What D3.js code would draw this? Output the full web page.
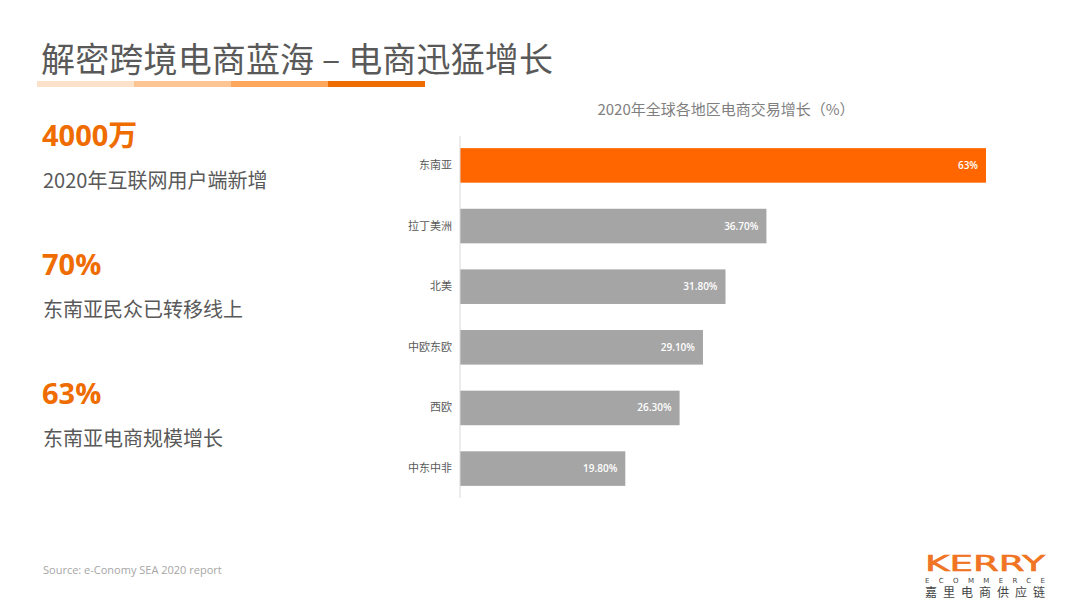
<!DOCTYPE html>
<html><head><meta charset="utf-8">
<script src="https://cdn.jsdelivr.net/npm/d3@7"></script>
<style>
html,body{margin:0;padding:0;background:#fff;}
svg{display:block;font-family:"Noto Sans CJK SC","Noto Sans",sans-serif;}
</style></head>
<body><svg id="c" width="1080" height="608"></svg>
<script>
const categories = ["东南亚","拉丁美洲","北美","中欧东欧","西欧","中东中非"];
const values = [63, 36.7, 31.8, 29.1, 26.3, 19.8];
const valueLabels = ["63%","36.70%","31.80%","29.10%","26.30%","19.80%"];
const stats = [
  {big:"4000万", sub:"2020年互联网用户端新增"},
  {big:"70%", sub:"东南亚民众已转移线上"},
  {big:"63%", sub:"东南亚电商规模增长"}
];
const accentColors = ["#fde2cb","#fdc594","#fca75c","#ee6c00"];

const svg = d3.select("#c");

// Title
svg.append("text").attr("x",41).attr("y",72).attr("font-size",34).attr("fill","#595959")
  .attr("font-weight",400).attr("textLength",512).text("解密跨境电商蓝海 – 电商迅猛增长");
// accent bar
const seg = d3.scaleBand().domain(d3.range(accentColors.length)).range([37,425]);
svg.selectAll("rect.acc").data(accentColors).join("rect").attr("class","acc")
  .attr("x",(d,i)=>seg(i)).attr("y",81).attr("width",seg.bandwidth()).attr("height",6)
  .attr("fill",d=>d);

// Left stats
stats.forEach((s,i)=>{
  const y0 = 146 + i*129;
  svg.append("text").attr("x",42).attr("y",y0).attr("font-size",29).attr("font-weight","bold")
    .attr("fill","#ee6c00").attr("font-family","'Open Sans','Noto Sans CJK SC',sans-serif").text(s.big);
  svg.append("text").attr("x",43).attr("y",y0+42).attr("font-size",20).attr("fill","#595959").text(s.sub);
});

// Chart
const x = d3.scaleLinear().domain([0,63]).range([460,986]);
const y = d3.scaleBand().domain(categories).range([136,498]).paddingInner(0.43).paddingOuter(0.2);

svg.append("text").attr("x",726).attr("y",115).attr("text-anchor","middle").attr("font-size",15)
  .attr("fill","#7f7f7f").text("2020年全球各地区电商交易增长（%）");

svg.selectAll("rect.bar").data(values).join("rect").attr("class","bar")
  .attr("x",x(0)).attr("y",(d,i)=>y(categories[i])).attr("width",d=>x(d)-x(0))
  .attr("height",y.bandwidth()).attr("fill",(d,i)=>i===0?"#ff6600":"#a5a5a5");

svg.selectAll("text.val").data(values).join("text").attr("class","val")
  .attr("x",d=>x(d)-8).attr("y",(d,i)=>y(categories[i])+y.bandwidth()/2)
  .attr("dy","0.35em").attr("text-anchor","end").attr("font-size",10).attr("fill","#fff")
  .attr("font-family","'Open Sans','Noto Sans',sans-serif").attr("font-weight","600")
  .text((d,i)=>valueLabels[i]);

const yAxis = d3.axisLeft(y).tickSize(0).tickPadding(8);
const ga = svg.append("g").attr("transform",`translate(${x(0)},0)`).call(yAxis);
ga.select(".domain").attr("stroke","#d9d9d9").attr("d","M0,136V498");
ga.selectAll("text").attr("font-size",11).attr("fill","#595959")
  .attr("font-family","'Noto Sans CJK SC',sans-serif");

// Source
svg.append("text").attr("x",43).attr("y",574).attr("font-size",11).attr("fill","#a6a6a6")
  .attr("font-family","'Open Sans',sans-serif").text("Source: e-Conomy SEA 2020 report");

// Logo
svg.append("text").attr("x",925).attr("y",571).attr("font-size",22)
  .attr("fill","#f07422").attr("font-family","'DejaVu Sans',sans-serif")
  .attr("stroke","#f07422").attr("stroke-width",0.6)
  .attr("textLength",120).attr("lengthAdjust","spacingAndGlyphs").text("KERRY");
svg.append("text").attr("x",925).attr("y",583).attr("font-size",7)
  .attr("fill","#444").attr("textLength",120).attr("font-family","'DejaVu Sans',sans-serif").text("ECOMMERCE");
svg.append("text").attr("x",925).attr("y",597).attr("font-size",12)
  .attr("fill","#444").attr("textLength",120).text("嘉里电商供应链");
</script></body></html>
